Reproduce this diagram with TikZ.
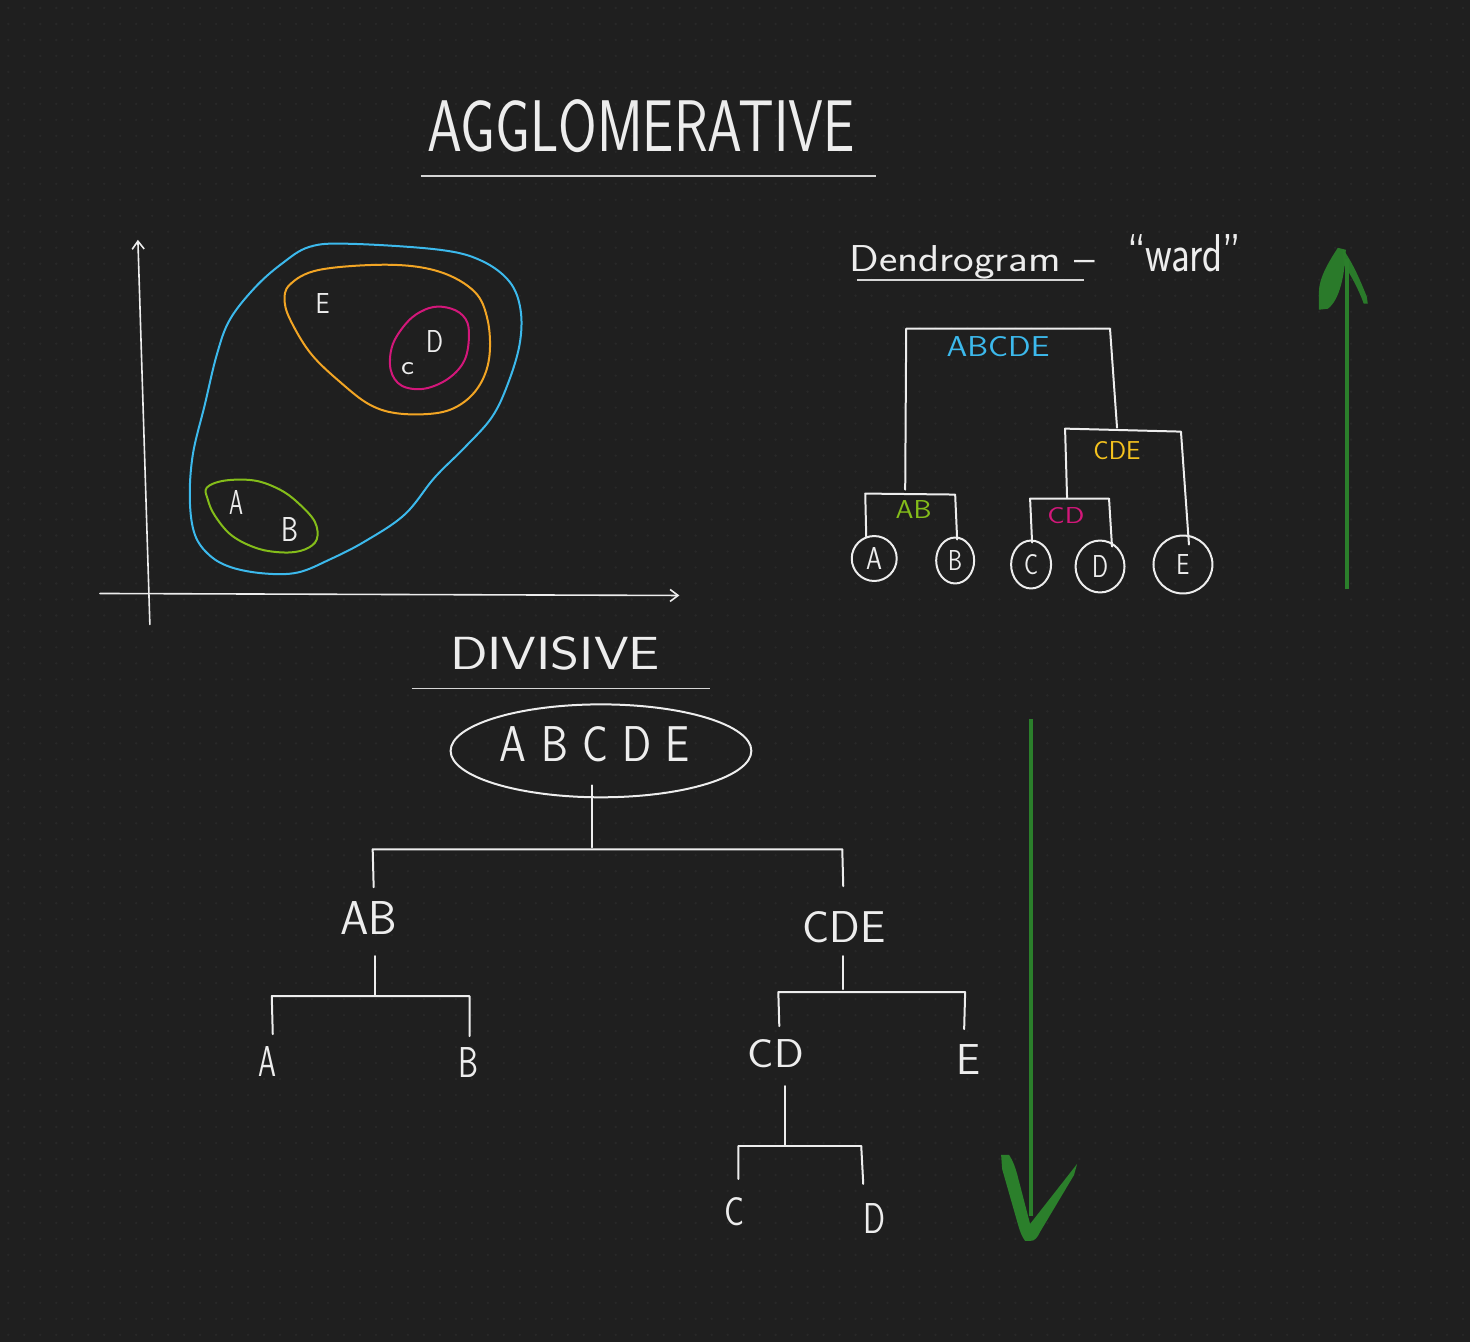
\documentclass[tikz,border=0pt]{standalone}
\usepackage{graphicx}
\usetikzlibrary{arrows.meta,shapes.geometric}
\definecolor{bgc}{HTML}{1F1F1F}
\definecolor{dotc}{HTML}{282828}
\definecolor{ink}{HTML}{EDEDED}
\definecolor{cblue}{HTML}{3CB9EC}
\definecolor{corange}{HTML}{F2A524}
\definecolor{cmag}{HTML}{D3177A}
\definecolor{cgreen}{HTML}{84BD1A}
\definecolor{cyellow}{HTML}{F4C21E}
\definecolor{agreen}{HTML}{2B7F2B}
\newlength\pxu \setlength\pxu{0.5pt}
\newcommand\hwtext[3]{\resizebox{#1\pxu}{#2\pxu}{\sffamily\fontsize{24pt}{24pt}\selectfont #3}}
\begin{document}
\begin{tikzpicture}[x=0.5pt,y=-0.5pt,
  wl/.style={draw=ink, line width=1pt, line cap=round, line join=round},
  ul/.style={draw=ink!90!black, line width=0.75pt},
  cl/.style={line width=1pt, line join=round},
  lbl/.style={inner sep=0, anchor=base west, text=ink},
  clbl/.style={inner sep=0, anchor=center, text=ink},
  leaf/.style={draw=ink, text=ink, line width=1pt, ellipse, inner sep=0}]
\fill[bgc] (0,0) rectangle (1471,1343);
\foreach \j in {0,...,83}{\draw[dotc, line width=1.3pt, line cap=round, dash pattern=on 0pt off 8pt] (8.3,16*\j+8) -- (1471,16*\j+8);}
\useasboundingbox (0,0) rectangle (1471,1343);

% ---- AGGLOMERATIVE title
\node[lbl] (t1) at (427,152) {\hwtext{428}{52}{AGGLOMERATIVE}};
\coordinate (u1a) at (421,176); \coordinate (u1b) at (877,176);
\draw[ul] (u1a) -- (u1b);

% ---- axes
\coordinate (yb) at (150,625); \coordinate (yt) at (138,240);
\coordinate (xl) at (100,594); \coordinate (xr) at (680,596);
\draw[wl, line width=0.8pt, -{Straight Barb[length=4pt,width=6pt]}] (yb) -- (yt);
\draw[wl, line width=0.8pt, -{Straight Barb[length=4pt,width=6pt]}] (xl) -- (xr);

% ---- clusters
\draw[cl, cblue] plot[smooth cycle, tension=0.6] coordinates {(310,247) (350,244) (440,250) (482,261) (510,282) (521,310) (520,345) (508,385) (492,418) (465,448) (435,478) (405,515) (365,542) (330,560) (298,573) (265,574) (232,568) (210,556) (195,535) (190,500) (193,455) (205,405) (217,355) (230,320) (255,288) (282,264)};
\draw[cl, corange] plot[smooth cycle, tension=0.6] coordinates {(290,285) (320,270) (390,265) (440,272) (475,292) (488,320) (490,355) (482,382) (465,402) (440,413) (400,414) (370,405) (340,382) (312,355) (293,325) (285,303)};
\draw[cl, cmag] plot[smooth cycle, tension=0.6] coordinates {(442,307) (460,313) (469,328) (466,358) (450,378) (425,389) (402,386) (391,370) (393,345) (408,322) (425,310)};
\draw[cl, cgreen] plot[smooth cycle, tension=0.6] coordinates {(207,488) (225,481) (255,481) (280,490) (298,503) (315,522) (317,540) (305,550) (285,553) (258,549) (232,536) (215,516) (208,500)};
\node[clbl] (pE) at (323,304) {\hwtext{14}{20}{E}};
\node[clbl] (pD) at (435,342) {\hwtext{17}{22}{D}};
\node[clbl] (pC) at (408,369) {\hwtext{13}{12}{c}};
\node[clbl] (pA) at (237,503) {\hwtext{14}{24}{A}};
\node[clbl] (pB) at (290,530) {\hwtext{17}{24}{B}};

% ---- dendrogram
\node[lbl] (dt) at (850,272) {\hwtext{246}{26}{Dendrogram \textendash}};
\node[lbl] (dw) at (1128,272) {\hwtext{114}{37}{\textquotedblleft ward\textquotedblright}};
\coordinate (u2a) at (858,280); \coordinate (u2b) at (1085,280);
\draw[ul] (u2a) -- (u2b);

\node[leaf, minimum width=45\pxu, minimum height=45\pxu] (cA) at (875,559) {\hwtext{16}{22}{A}};
\node[leaf, minimum width=38\pxu, minimum height=46\pxu] (cB) at (956,561) {\hwtext{14}{20}{B}};
\node[leaf, minimum width=40\pxu, minimum height=48\pxu] (cC) at (1032,565) {\hwtext{14}{20}{C}};
\node[leaf, minimum width=49\pxu, minimum height=52\pxu] (cD) at (1101,567) {\hwtext{16}{22}{D}};
\node[leaf, minimum width=59\pxu, minimum height=58\pxu] (cE) at (1184,565) {\hwtext{13}{20}{E}};

\coordinate (ab1) at (867,537); \coordinate (ab2) at (866,494); \coordinate (ab3) at (956,495); \coordinate (ab4) at (958,540);
\coordinate (cd1) at (1033,543); \coordinate (cd2) at (1031,499); \coordinate (cd3) at (1110,499); \coordinate (cd4) at (1113,547);
\coordinate (cde1) at (1068,498); \coordinate (cde2) at (1066,429); \coordinate (cde3) at (1182,432); \coordinate (cde4) at (1190,545);
\coordinate (r1) at (906,490); \coordinate (r2) at (907,329); \coordinate (r3) at (1111,329); \coordinate (r4) at (1118,428);
\draw[wl] (ab1) -- (ab2) -- (ab3) -- (ab4);
\draw[wl] (cd1) -- (cd2) -- (cd3) -- (cd4);
\draw[wl] (cde1) -- (cde2) -- (cde3) -- (cde4);
\draw[wl] (r1) -- (r2) -- (r3) -- (r4);
\node[lbl, text=cblue] (lABCDE) at (947,357) {\hwtext{103}{20}{ABCDE}};
\node[lbl, text=cyellow] (lCDE) at (1094,460) {\hwtext{47}{18}{CDE}};
\node[lbl, text=cgreen] (lAB) at (896,519) {\hwtext{36}{18}{AB}};
\node[lbl, text=cmag] (lCD) at (1048,524) {\hwtext{37}{16}{CD}};

% ---- green up arrow
\coordinate (ua) at (1348,590); \coordinate (ub) at (1348,259);
\draw[agreen, line width=2pt] (ua) -- (ub);
\fill[agreen, opacity=0.95] (1339,248) -- (1347,250) .. controls (1346,275) and (1341,300) .. (1329,309) -- (1320,310) -- (1320,293) .. controls (1320,278) and (1330,262) .. cycle;
\fill[agreen, opacity=0.95] (1344,249) .. controls (1355,265) and (1362,282) .. (1368,297) -- (1369,304) -- (1365,304) .. controls (1360,290) and (1352,275) .. (1345,265) -- cycle;

% ---- DIVISIVE
\node[lbl] (dv) at (450,670) {\hwtext{210}{33}{DIVISIVE}};
\coordinate (u3a) at (412,689); \coordinate (u3b) at (711,689);
\draw[ul] (u3a) -- (u3b);
\node[draw=ink, line width=1pt, ellipse, minimum width=301\pxu, minimum height=93\pxu, inner sep=0] (root) at (601.5,751.5) {};
\node[lbl] (rootT) at (500,762) {\hwtext{190}{35}{A\,\,B\,\,C\,\,D\,\,E}};

\coordinate (s1) at (593,786); \coordinate (s2) at (593,848);
\draw[wl] (s1) -- (s2);
\coordinate (h1) at (374,888); \coordinate (h2) at (373,850); \coordinate (h3) at (843,850); \coordinate (h4) at (844,887);
\draw[wl] (h1) -- (h2) -- (h3) -- (h4);
\node[lbl] (dAB) at (340,935) {\hwtext{57}{33}{AB}};
\node[lbl] (dCDE) at (803,943) {\hwtext{83}{31}{CDE}};

\coordinate (p1) at (375,957); \coordinate (p2) at (375,996);
\draw[wl] (p1) -- (p2);
\coordinate (q1) at (273,1035); \coordinate (q2) at (272,997); \coordinate (q3) at (470,997); \coordinate (q4) at (470,1037);
\draw[wl] (q1) -- (q2) -- (q3) -- (q4);
\node[lbl] (dA) at (258,1077) {\hwtext{18}{30}{A}};
\node[lbl] (dB) at (458,1078) {\hwtext{20}{30}{B}};

\coordinate (m1) at (844,957); \coordinate (m2) at (844,990);
\draw[wl] (m1) -- (m2);
\coordinate (n1) at (780,1027); \coordinate (n2) at (779,993); \coordinate (n3) at (966,993); \coordinate (n4) at (965,1030);
\draw[wl] (n1) -- (n2) -- (n3) -- (n4);
\node[lbl] (dCD) at (748,1068) {\hwtext{56}{28}{CD}};
\node[lbl] (dE) at (957,1075) {\hwtext{24}{30}{E}};

\coordinate (k1) at (786,1087); \coordinate (k2) at (786,1146);
\draw[wl] (k1) -- (k2);
\coordinate (g1) at (739,1180); \coordinate (g2) at (739,1147); \coordinate (g3) at (862,1147); \coordinate (g4) at (864,1185);
\draw[wl] (g1) -- (g2) -- (g3) -- (g4);
\node[lbl] (dC) at (725,1227) {\hwtext{20}{28}{C}};
\node[lbl] (dD) at (864,1235) {\hwtext{22}{30}{D}};

% ---- green down arrow
\coordinate (da) at (1032,720); \coordinate (db) at (1032,1217);
\draw[agreen, line width=2pt] (da) -- (db);
\fill[agreen] (1002,1156) -- (1010,1156) .. controls (1014,1162) and (1016,1168) .. (1018,1175) -- (1031,1225) -- (1078,1165) -- (1075,1176) -- (1041,1233) .. controls (1038,1239) and (1036,1242) .. (1031,1242) -- (1026,1242) .. controls (1023,1238) and (1021,1233) .. (1019,1226) -- (1003,1170) -- cycle;
\end{tikzpicture}
\end{document}
